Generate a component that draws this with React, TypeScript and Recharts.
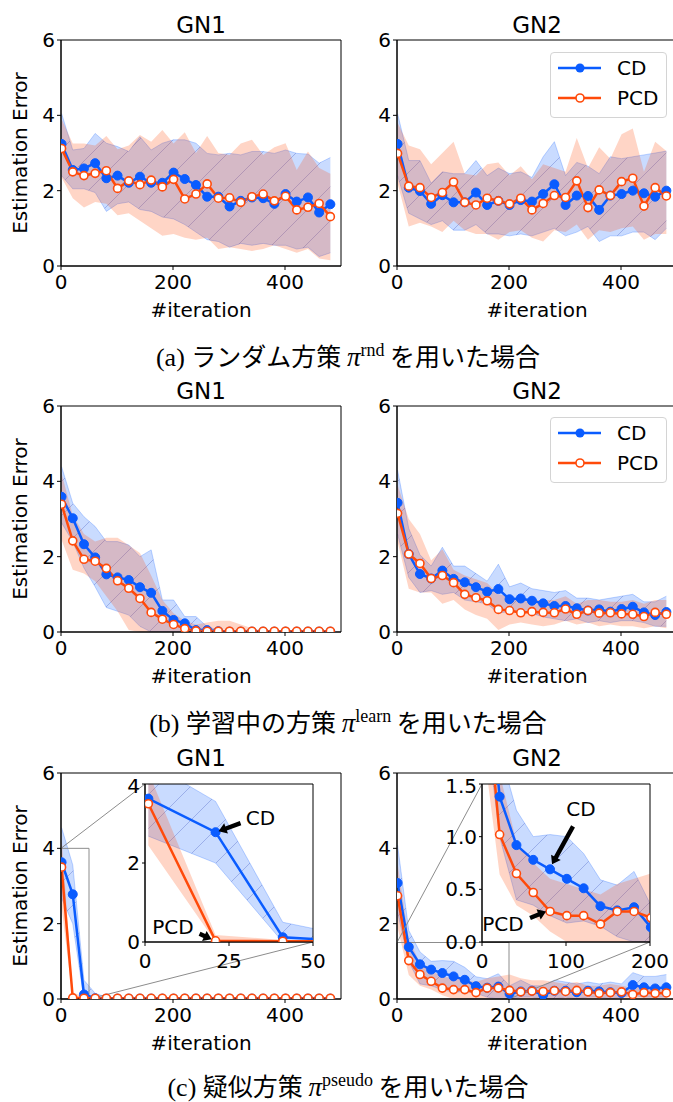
import React from 'react';
import { ComposedChart, Area, Line, XAxis, YAxis, ReferenceArea, ReferenceLine, ReferenceDot } from 'recharts';

// iteration index shared by every panel
const ITER = [1, 21, 41, 61, 81, 101, 121, 141, 161, 181, 201, 221, 241, 261, 281, 301, 321, 341, 361, 381, 401, 421, 441, 461, 481];

// (a) random policy
const aGn1Cd = [3.24, 2.55, 2.59, 2.73, 2.33, 2.40, 2.21, 2.37, 2.21, 2.21, 2.48, 2.31, 2.15, 1.84, 1.84, 1.58, 1.73, 1.82, 1.80, 1.65, 1.91, 1.71, 1.82, 1.42, 1.64];
const aGn1CdLo = [2.40, 2.05, 2.05, 1.95, 1.45, 1.65, 1.70, 1.50, 1.45, 1.30, 1.25, 1.10, 0.90, 0.70, 0.65, 0.50, 0.60, 0.55, 0.60, 0.55, 0.55, 0.45, 0.50, 0.25, 0.35];
const aGn1CdHi = [4.05, 3.08, 3.12, 3.52, 3.26, 3.17, 3.04, 3.43, 3.08, 3.26, 3.35, 3.35, 3.26, 2.99, 2.95, 2.99, 2.95, 3.04, 3.04, 2.99, 3.08, 2.99, 2.97, 2.73, 2.88];
const aGn1Pcd = [3.12, 2.50, 2.40, 2.46, 2.53, 2.06, 2.26, 2.16, 2.28, 2.10, 2.30, 1.78, 1.91, 2.18, 1.80, 1.81, 1.69, 1.84, 1.91, 1.73, 1.85, 1.49, 1.56, 1.66, 1.31];
const aGn1PcdLo = [2.35, 1.80, 1.55, 1.70, 1.65, 1.35, 1.40, 1.20, 1.00, 0.80, 0.85, 0.75, 0.70, 0.75, 0.45, 0.50, 0.45, 0.40, 0.45, 0.55, 0.45, 0.35, 0.45, 0.20, 0.15];
const aGn1PcdHi = [3.90, 3.25, 3.25, 3.20, 3.45, 3.10, 3.20, 3.48, 3.30, 3.61, 3.25, 3.55, 3.00, 3.45, 3.00, 2.95, 3.25, 3.35, 2.95, 3.15, 3.26, 2.55, 3.04, 2.60, 2.45];

const aGn2Cd = [3.24, 2.08, 1.99, 1.65, 1.88, 1.69, 1.69, 1.95, 1.62, 1.73, 1.62, 1.75, 1.71, 1.91, 2.17, 1.62, 1.87, 1.86, 1.49, 1.87, 1.91, 2.00, 1.93, 1.84, 2.00];
const aGn2CdLo = [2.40, 1.40, 1.25, 1.10, 1.20, 0.95, 0.95, 1.10, 0.85, 0.85, 0.80, 0.85, 0.80, 0.90, 1.00, 0.80, 0.90, 1.05, 0.65, 0.80, 0.80, 0.90, 0.90, 0.70, 1.00];
const aGn2CdHi = [4.05, 2.80, 2.80, 2.20, 2.50, 2.45, 2.45, 2.80, 2.40, 2.60, 2.45, 2.50, 2.35, 2.90, 3.30, 2.40, 2.75, 2.65, 2.45, 2.90, 2.85, 2.90, 2.95, 3.00, 3.05];
const aGn2Pcd = [2.99, 2.12, 2.08, 1.82, 1.95, 2.23, 1.69, 1.62, 1.80, 1.73, 1.65, 1.80, 1.49, 1.66, 1.87, 1.82, 2.26, 1.55, 2.02, 1.87, 2.24, 2.33, 1.59, 2.08, 1.86];
const aGn2PcdLo = [2.20, 1.05, 1.15, 1.05, 0.90, 1.20, 0.95, 0.85, 0.85, 0.70, 0.90, 0.95, 0.75, 0.65, 0.95, 0.90, 1.10, 0.70, 0.95, 0.90, 1.00, 1.05, 0.70, 0.85, 0.85];
const aGn2PcdHi = [3.80, 3.20, 3.10, 2.70, 3.00, 3.30, 2.45, 2.40, 2.70, 2.75, 2.40, 2.65, 2.30, 2.70, 2.60, 2.50, 3.40, 2.60, 3.15, 2.85, 3.50, 3.65, 2.50, 3.30, 3.05];

// (b) policy being learned
const bGn1Cd = [3.59, 3.02, 2.33, 1.98, 1.53, 1.45, 1.38, 1.19, 1.04, 0.56, 0.32, 0.23, 0.05, 0.05, 0.02, 0.01, 0.01, 0.01, 0.01, 0.01, 0.01, 0.01, 0.01, 0.01, 0.01];
const bGn1CdLo = [2.90, 2.40, 1.70, 1.20, 0.65, 0.55, 0.45, 0.15, 0.00, 0.00, 0.00, 0.00, 0.00, 0.00, 0.00, 0.00, 0.00, 0.00, 0.00, 0.00, 0.00, 0.00, 0.00, 0.00, 0.00];
const bGn1CdHi = [4.39, 3.42, 3.06, 2.80, 2.40, 2.40, 2.31, 2.00, 2.18, 0.85, 0.85, 0.41, 0.41, 0.14, 0.05, 0.02, 0.02, 0.02, 0.02, 0.02, 0.02, 0.02, 0.02, 0.02, 0.02];
const bGn1Pcd = [3.39, 2.42, 1.93, 1.88, 1.69, 1.36, 1.16, 0.89, 0.52, 0.34, 0.20, 0.09, 0.03, 0.02, 0.02, 0.02, 0.02, 0.02, 0.02, 0.02, 0.02, 0.02, 0.02, 0.02, 0.02];
const bGn1PcdLo = [2.45, 1.65, 1.55, 1.35, 0.95, 0.55, 0.05, 0.00, 0.00, 0.00, 0.00, 0.00, 0.00, 0.00, 0.00, 0.00, 0.00, 0.00, 0.00, 0.00, 0.00, 0.00, 0.00, 0.00, 0.00];
const bGn1PcdHi = [4.20, 3.10, 2.60, 2.40, 2.50, 2.50, 2.30, 2.10, 1.50, 0.85, 0.50, 0.30, 0.20, 0.25, 0.30, 0.30, 0.20, 0.10, 0.02, 0.02, 0.02, 0.02, 0.02, 0.02, 0.02];

const bGn2Cd = [3.43, 2.07, 1.54, 1.42, 1.63, 1.41, 1.32, 1.19, 1.07, 1.14, 0.87, 0.89, 0.83, 0.76, 0.69, 0.69, 0.63, 0.57, 0.60, 0.54, 0.61, 0.67, 0.52, 0.45, 0.53];
const bGn2CdLo = [2.60, 1.45, 1.05, 1.10, 1.00, 1.05, 0.85, 0.80, 0.75, 0.50, 0.55, 0.55, 0.50, 0.40, 0.35, 0.30, 0.35, 0.25, 0.30, 0.25, 0.30, 0.30, 0.25, 0.15, 0.15];
const bGn2CdHi = [4.30, 2.75, 2.05, 1.75, 2.25, 1.75, 1.75, 1.55, 1.35, 1.80, 1.20, 1.30, 1.15, 1.10, 1.05, 1.10, 0.90, 0.90, 0.85, 0.90, 0.95, 1.00, 0.80, 0.80, 0.95];
const bGn2Pcd = [3.15, 2.07, 1.82, 1.42, 1.50, 1.31, 1.00, 0.91, 0.83, 0.60, 0.57, 0.51, 0.54, 0.52, 0.51, 0.61, 0.47, 0.57, 0.50, 0.51, 0.48, 0.47, 0.41, 0.52, 0.47];
const bGn2PcdLo = [2.40, 1.15, 1.05, 1.05, 0.75, 0.85, 0.60, 0.45, 0.35, 0.05, 0.20, 0.25, 0.20, 0.15, 0.20, 0.30, 0.20, 0.25, 0.15, 0.20, 0.15, 0.15, 0.10, 0.15, 0.10];
const bGn2PcdHi = [3.90, 3.00, 2.60, 1.90, 2.20, 1.65, 1.50, 1.40, 1.30, 1.00, 0.95, 0.85, 0.85, 0.85, 0.85, 0.95, 0.75, 0.85, 0.85, 0.80, 0.80, 0.85, 0.75, 0.85, 0.85];

// (c) pseudo policy
const cGn1Cd = [3.63, 2.78, 0.12, 0.02, 0.01, 0.01, 0.01, 0.01, 0.01, 0.01, 0.01, 0.01, 0.01, 0.01, 0.01, 0.01, 0.01, 0.01, 0.01, 0.01, 0.01, 0.01, 0.01, 0.01, 0.01];
const cGn1CdLo = [2.68, 2.00, 0.00, 0.00, 0.00, 0.00, 0.00, 0.00, 0.00, 0.00, 0.00, 0.00, 0.00, 0.00, 0.00, 0.00, 0.00, 0.00, 0.00, 0.00, 0.00, 0.00, 0.00, 0.00, 0.00];
const cGn1CdHi = [4.55, 3.56, 0.50, 0.15, 0.05, 0.02, 0.02, 0.02, 0.02, 0.02, 0.02, 0.02, 0.02, 0.02, 0.02, 0.02, 0.02, 0.02, 0.02, 0.02, 0.02, 0.02, 0.02, 0.02, 0.02];
const cGn1Pcd = [3.50, 0.03, 0.02, 0.02, 0.02, 0.02, 0.02, 0.02, 0.02, 0.02, 0.02, 0.02, 0.02, 0.02, 0.02, 0.02, 0.02, 0.02, 0.02, 0.02, 0.02, 0.02, 0.02, 0.02, 0.02];
const cGn1PcdLo = [2.44, 0.00, 0.00, 0.00, 0.00, 0.00, 0.00, 0.00, 0.00, 0.00, 0.00, 0.00, 0.00, 0.00, 0.00, 0.00, 0.00, 0.00, 0.00, 0.00, 0.00, 0.00, 0.00, 0.00, 0.00];
const cGn1PcdHi = [4.30, 0.18, 0.05, 0.02, 0.02, 0.02, 0.02, 0.02, 0.02, 0.02, 0.02, 0.02, 0.02, 0.02, 0.02, 0.02, 0.02, 0.02, 0.02, 0.02, 0.02, 0.02, 0.02, 0.02, 0.02];

const cGn2Cd = [3.08, 1.38, 0.92, 0.78, 0.69, 0.60, 0.51, 0.34, 0.30, 0.33, 0.14, 0.20, 0.22, 0.11, 0.22, 0.22, 0.18, 0.22, 0.20, 0.18, 0.16, 0.37, 0.31, 0.28, 0.31];
const cGn2CdLo = [2.30, 1.00, 0.40, 0.35, 0.25, 0.18, 0.20, 0.15, 0.05, 0.00, 0.00, 0.05, 0.05, 0.00, 0.00, 0.05, 0.00, 0.05, 0.05, 0.00, 0.05, 0.10, 0.05, 0.05, 0.05];
const cGn2CdHi = [4.09, 1.82, 1.25, 1.00, 1.02, 1.00, 0.84, 0.59, 0.54, 0.67, 0.35, 0.50, 0.35, 0.35, 0.50, 0.45, 0.40, 0.45, 0.40, 0.45, 0.40, 0.70, 0.60, 0.60, 0.65];
const cGn2Pcd = [2.74, 1.02, 0.65, 0.47, 0.29, 0.25, 0.25, 0.17, 0.29, 0.29, 0.23, 0.19, 0.21, 0.20, 0.22, 0.20, 0.23, 0.19, 0.15, 0.17, 0.19, 0.12, 0.17, 0.15, 0.16];
const cGn2PcdLo = [1.90, 0.64, 0.35, 0.25, 0.10, 0.00, 0.00, 0.00, 0.00, 0.00, 0.00, 0.00, 0.00, 0.00, 0.00, 0.00, 0.00, 0.00, 0.00, 0.00, 0.00, 0.00, 0.00, 0.00, 0.00];
const cGn2PcdHi = [3.60, 1.60, 0.95, 0.75, 0.60, 0.55, 0.50, 0.45, 0.55, 0.60, 0.65, 0.55, 0.50, 0.50, 0.45, 0.40, 0.45, 0.35, 0.35, 0.40, 0.35, 0.30, 0.35, 0.30, 0.30];

const X_TICKS = [0, 200, 400];
const Y_TICKS = [0, 2, 4, 6];

const FONT = '"DejaVu Sans", sans-serif';
const SERIF = '"Liberation Serif", "DejaVu Serif", serif';
const CJK = '"Noto Sans CJK JP", sans-serif';
const BLUE = '#0a5cff';
const ORANGE = '#ff4a0a';

// layout
const PLOT_W = 280;
const PLOT_H = 226;
const Y_W = 46;
const M_TOP = 14;
const M_RIGHT = 8;
const X_H = 34;
const COL_LEFT = [61, 397];
const ROW_TOP = [40, 406, 773];
const INSET_DX = [84, 85];
const INSET_DY = 11;
const INSET_W = 168;
const INSET_H = 158;
const X_MAX = 500;
const Y_MAX = 6;

type Row = { x: number; cd: number; pcd: number; cdBand: number[]; pcdBand: number[] };

const makeRows = (cd: number[], cdLo: number[], cdHi: number[], pcd: number[], pcdLo: number[], pcdHi: number[]): Row[] =>
  ITER.map((x, i) => ({ x, cd: cd[i], pcd: pcd[i], cdBand: [cdLo[i], cdHi[i]], pcdBand: [pcdLo[i], pcdHi[i]] }));

const TICK = { fill: '#000', fontSize: 20, fontFamily: FONT };

function hatchDefs(id: string) {
  return (
    <defs>
      <pattern id={`hatch-${id}`} patternUnits="userSpaceOnUse" width={34} height={34}>
        <path d="M-8,8 L8,-8 M0,34 L34,0 M26,42 L42,26" stroke="#3346b8" strokeOpacity={0.3} strokeWidth={1} />
      </pattern>
    </defs>
  );
}

function series(id: string) {
  return [
    <Area key="cdb" dataKey="cdBand" type="linear" stroke={BLUE} strokeOpacity={0.25} strokeWidth={1} fill={BLUE} fillOpacity={0.22} isAnimationActive={false} activeDot={false} />,
    <Area key="cdh" dataKey="cdBand" type="linear" stroke="none" fill={`url(#hatch-${id})`} fillOpacity={1} isAnimationActive={false} activeDot={false} />,
    <Area key="pcdb" dataKey="pcdBand" type="linear" stroke="none" fill={ORANGE} fillOpacity={0.23} isAnimationActive={false} activeDot={false} />,
    <Line key="cd" dataKey="cd" type="linear" stroke={BLUE} strokeWidth={2.5} dot={{ r: 4.5, fill: BLUE, stroke: BLUE, strokeWidth: 1 }} activeDot={false} isAnimationActive={false} />,
    <Line key="pcd" dataKey="pcd" type="linear" stroke={ORANGE} strokeWidth={2.5} dot={{ r: 4, fill: '#fff', stroke: ORANGE, strokeWidth: 1.6 }} activeDot={false} isAnimationActive={false} />,
  ];
}

type ArrowSpec = { x: number; y: number; label: string; tail: number[]; head: number[]; text: number[] };
type InsetSpec = { xMax: number; yMax: number; xTicks: number[]; yTicks: number[]; fmt?: (v: number) => string; arrows: ArrowSpec[] };

// black wedge arrow plus its label, placed relative to the annotated point
function arrowShape(a: ArrowSpec) {
  return (p: any) => {
    const { cx, cy } = p;
    const x0 = cx + a.tail[0], y0 = cy + a.tail[1];
    const x1 = cx + a.head[0], y1 = cy + a.head[1];
    const len = Math.hypot(x1 - x0, y1 - y0);
    const ux = (x1 - x0) / len, uy = (y1 - y0) / len;
    const nx = -uy, ny = ux;
    const hl = Math.min(8, len * 0.6), bw = 2.2, hw = 5.5;
    const bx = x1 - ux * hl, by = y1 - uy * hl;
    const pts = [
      [x0 + nx * bw, y0 + ny * bw], [bx + nx * bw, by + ny * bw], [bx + nx * hw, by + ny * hw], [x1, y1],
      [bx - nx * hw, by - ny * hw], [bx - nx * bw, by - ny * bw], [x0 - nx * bw, y0 - ny * bw],
    ].map((q) => q.join(',')).join(' ');
    return (
      <g>
        <polygon points={pts} fill="#000" />
        <text x={cx + a.text[0]} y={cy + a.text[1]} textAnchor="middle" dominantBaseline="central" fontSize={20} fontFamily={FONT} fill="#000">{a.label}</text>
      </g>
    );
  };
}

function Frame({ xMax, yMax }: { xMax: number; yMax: number }) {
  return <ReferenceArea x1={0} x2={xMax} y1={0} y2={yMax} fill="none" stroke="#000" strokeWidth={1} ifOverflow="visible" />;
}

function Panel({ rows, id, col, row, title, inset }: { rows: Row[]; id: string; col: number; row: number; title: string; inset?: InsetSpec }) {
  const left = COL_LEFT[col];
  const top = ROW_TOP[row];
  const dx = INSET_DX[col];
  // inset corners in the main panel's data space
  const toX = (px: number) => (px / PLOT_W) * X_MAX;
  const toY = (py: number) => ((PLOT_H - py) / PLOT_H) * Y_MAX;
  return (
    <>
      <div style={{ position: 'absolute', left: left - Y_W, top: top - M_TOP }}>
        <ComposedChart width={Y_W + PLOT_W + M_RIGHT} height={M_TOP + PLOT_H + X_H} data={rows} margin={{ top: M_TOP, right: M_RIGHT, bottom: 0, left: 0 }}>
          {hatchDefs(id)}
          <XAxis type="number" dataKey="x" domain={[0, X_MAX]} ticks={X_TICKS} allowDataOverflow height={X_H} tick={TICK} tickSize={4} tickMargin={5} stroke="#000" />
          <YAxis type="number" domain={[0, Y_MAX]} ticks={Y_TICKS} allowDataOverflow width={Y_W} tick={TICK} tickSize={4} tickMargin={2} stroke="#000" />
          {series(id)}
          {inset && <ReferenceArea x1={0} x2={inset.xMax} y1={0} y2={inset.yMax} fill="none" stroke="#8c8c8c" strokeWidth={1} ifOverflow="visible" />}
          {inset && <ReferenceLine segment={[{ x: 0, y: inset.yMax }, { x: toX(dx), y: toY(INSET_DY) }]} stroke="#8c8c8c" strokeWidth={1} ifOverflow="visible" />}
          {inset && <ReferenceLine segment={[{ x: inset.xMax, y: 0 }, { x: toX(dx + INSET_W), y: toY(INSET_DY + INSET_H) }]} stroke="#8c8c8c" strokeWidth={1} ifOverflow="visible" />}
          <Frame xMax={X_MAX} yMax={Y_MAX} />
        </ComposedChart>
      </div>
      <div style={{ position: 'absolute', left, top: top - 30, width: PLOT_W, textAlign: 'center', fontSize: 23, lineHeight: '30px', fontFamily: FONT }}>{title}</div>
      <div style={{ position: 'absolute', left, top: top + PLOT_H + 29, width: PLOT_W, textAlign: 'center', fontSize: 20, lineHeight: '30px', fontFamily: FONT }}>#iteration</div>
      {col === 0 && (
        <div style={{ position: 'absolute', left: 20, top: top + PLOT_H / 2, transform: 'translate(-50%, -50%) rotate(-90deg)', whiteSpace: 'nowrap', fontSize: 20, fontFamily: FONT }}>Estimation Error</div>
      )}
      {inset && (
        <>
          <div style={{ position: 'absolute', left: left + dx, top: top + INSET_DY, width: INSET_W, height: INSET_H, background: '#fff' }} />
          <div style={{ position: 'absolute', left: left + dx - 44, top: top + INSET_DY - 10 }}>
            <ComposedChart width={44 + INSET_W + 30} height={10 + INSET_H + 36} data={rows} margin={{ top: 10, right: 30, bottom: 0, left: 0 }}>
              {hatchDefs(id + 'i')}
              <XAxis type="number" dataKey="x" domain={[0, inset.xMax]} ticks={inset.xTicks} allowDataOverflow height={36} tick={TICK} tickSize={4} tickMargin={8} stroke="#000" />
              <YAxis type="number" domain={[0, inset.yMax]} ticks={inset.yTicks} allowDataOverflow width={44} tick={TICK} tickSize={3} tickMargin={2} stroke="#000" tickFormatter={inset.fmt} />
              {series(id + 'i')}
              <Frame xMax={inset.xMax} yMax={inset.yMax} />
              {inset.arrows.map((a, i) => (
                <ReferenceDot key={i} x={a.x} y={a.y} r={0} shape={arrowShape(a)} />
              ))}
            </ComposedChart>
          </div>
        </>
      )}
    </>
  );
}

function LegendBox({ top }: { top: number }) {
  return (
    <div style={{ position: 'absolute', left: 550, top, width: 117, height: 66, border: '1px solid #d4d4d4', borderRadius: 4, background: 'rgba(255,255,255,0.85)', boxSizing: 'border-box' }}>
      <svg width={117} height={66} style={{ position: 'absolute', left: -1, top: -1 }}>
        <line x1={8} x2={51} y1={16} y2={16} stroke={BLUE} strokeWidth={2.5} />
        <circle cx={30} cy={16} r={4.5} fill={BLUE} />
        <text x={67} y={16} dominantBaseline="central" fontSize={20} fontFamily={FONT}>CD</text>
        <line x1={8} x2={51} y1={46} y2={46} stroke={ORANGE} strokeWidth={2.5} />
        <circle cx={30} cy={46} r={4} fill="#fff" stroke={ORANGE} strokeWidth={1.6} />
        <text x={67} y={46} dominantBaseline="central" fontSize={20} fontFamily={FONT}>PCD</text>
      </svg>
    </div>
  );
}

function Caption({ y, tag, policy, sup }: { y: number; tag: string; policy: string; sup: string }) {
  return (
    <div style={{ position: 'absolute', left: 0, width: 696, top: y - 15, lineHeight: '30px', textAlign: 'center', whiteSpace: 'nowrap' }}>
      <span style={{ fontFamily: SERIF, fontSize: 26 }}>{tag} </span>
      <span style={{ fontFamily: CJK, fontSize: 25 }}>{policy} </span>
      <span style={{ fontFamily: SERIF, fontSize: 27, fontStyle: 'italic' }}>π</span>
      <span style={{ fontFamily: SERIF, fontSize: 18, position: 'relative', top: -10 }}>{sup}</span>
      <span style={{ fontFamily: CJK, fontSize: 25 }}> を用いた場合</span>
    </div>
  );
}

const gn1Inset: InsetSpec = {
  xMax: 50, yMax: 4, xTicks: [0, 25, 50], yTicks: [0, 2, 4],
  arrows: [
    { x: ITER[1], y: cGn1Cd[1], label: 'CD', tail: [25, -9], head: [3, -1], text: [45, -14.5] },
    { x: ITER[1], y: cGn1Pcd[1], label: 'PCD', tail: [-16, -7], head: [-4, -1.5], text: [-42.6, -13.5] },
  ],
};

const gn2Inset: InsetSpec = {
  xMax: 200, yMax: 1.5, xTicks: [0, 100, 200], yTicks: [0, 0.5, 1, 1.5], fmt: (v: number) => v.toFixed(1),
  arrows: [
    { x: ITER[4], y: cGn2Cd[4], label: 'CD', tail: [23, -43], head: [2, -5], text: [31, -60] },
    { x: ITER[4], y: cGn2Pcd[4], label: 'PCD', tail: [-20, 6.5], head: [-4, 0], text: [-47, 13] },
  ],
};

export default function App() {
  return (
    <div style={{ position: 'absolute', left: 0, top: 0, width: 673, height: 1102, overflow: 'hidden', background: '#fff', fontFamily: FONT }}>
      <Panel id="a1" col={0} row={0} title="GN1" rows={makeRows(aGn1Cd, aGn1CdLo, aGn1CdHi, aGn1Pcd, aGn1PcdLo, aGn1PcdHi)} />
      <Panel id="a2" col={1} row={0} title="GN2" rows={makeRows(aGn2Cd, aGn2CdLo, aGn2CdHi, aGn2Pcd, aGn2PcdLo, aGn2PcdHi)} />
      <LegendBox top={52} />
      <Caption y={355} tag="(a)" policy="ランダム方策" sup="rnd" />

      <Panel id="b1" col={0} row={1} title="GN1" rows={makeRows(bGn1Cd, bGn1CdLo, bGn1CdHi, bGn1Pcd, bGn1PcdLo, bGn1PcdHi)} />
      <Panel id="b2" col={1} row={1} title="GN2" rows={makeRows(bGn2Cd, bGn2CdLo, bGn2CdHi, bGn2Pcd, bGn2PcdLo, bGn2PcdHi)} />
      <LegendBox top={417} />
      <Caption y={721} tag="(b)" policy="学習中の方策" sup="learn" />

      <Panel id="c1" col={0} row={2} title="GN1" inset={gn1Inset} rows={makeRows(cGn1Cd, cGn1CdLo, cGn1CdHi, cGn1Pcd, cGn1PcdLo, cGn1PcdHi)} />
      <Panel id="c2" col={1} row={2} title="GN2" inset={gn2Inset} rows={makeRows(cGn2Cd, cGn2CdLo, cGn2CdHi, cGn2Pcd, cGn2PcdLo, cGn2PcdHi)} />
      <Caption y={1085} tag="(c)" policy="疑似方策" sup="pseudo" />
    </div>
  );
}
